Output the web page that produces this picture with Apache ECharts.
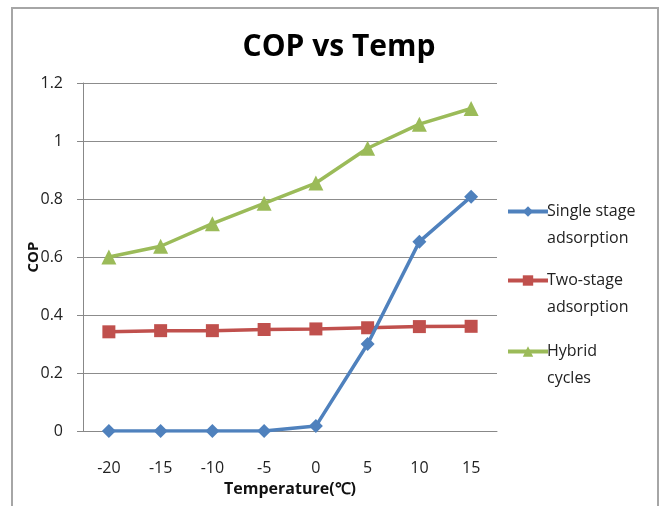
<!DOCTYPE html>
<html>
<head>
<meta charset="utf-8">
<script src="https://cdn.jsdelivr.net/npm/echarts@6/dist/echarts.min.js"></script>
<style>html,body{margin:0;padding:0;background:#fff}#c{width:662px;height:506px}</style>
</head>
<body>
<div id="c"></div>
<script>
const categories = ['-20', '-15', '-10', '-5', '0', '5', '10', '15'];
const singleStage = [0, 0, 0, 0, 0.017, 0.3, 0.653, 0.808];
const twoStage = [0.342, 0.346, 0.346, 0.35, 0.352, 0.356, 0.36, 0.361];
const hybrid = [0.6, 0.637, 0.715, 0.785, 0.855, 0.975, 1.058, 1.112];
const yTicks = [0, 0.2, 0.4, 0.6, 0.8, 1, 1.2];
const seriesNames = ['Single stage adsorption', 'Two-stage adsorption', 'Hybrid cycles'];
const legendLabels = {
  'Single stage adsorption': '\nSingle stage\nadsorption',
  'Two-stage adsorption': '\nTwo-stage\nadsorption',
  'Hybrid cycles': '\nHybrid\ncycles'
};

const FONT = '"Open Sans", sans-serif';
const legendTops = [193, 262, 333];
const chart = echarts.init(document.getElementById('c'), null, {renderer: 'canvas'});
chart.setOption({
  animation: false,
  backgroundColor: '#fff',
  title: {
    text: 'COP vs Temp',
    left: 334, top: 27, textAlign: 'center',
    textStyle: {fontFamily: FONT, fontWeight: 'bold', fontSize: 30, color: '#000'}
  },
  graphic: [{
    type: 'rect', shape: {x: 12, y: 8, width: 646, height: 520},
    style: {fill: 'none', stroke: '#a6a6a6', lineWidth: 2}, silent: true
  }],
  grid: {left: 83, right: 165, top: 83, bottom: 75, containLabel: false},
  legend: seriesNames.map((n, i) => ({
    orient: 'vertical', left: 501, top: legendTops[i] - 27,
    itemWidth: 40, itemHeight: 13, itemGap: 0,
    data: [n],
    formatter: nm => legendLabels[nm],
    lineStyle: {width: 4},
    textStyle: {fontFamily: FONT, fontSize: 16, color: '#222', lineHeight: 27, padding: [0, 0, 0, -6]}
  })),
  xAxis: {
    type: 'category', data: categories, boundaryGap: true,
    name: 'Temperature(℃)', nameLocation: 'middle', nameGap: 50,
    nameTextStyle: {fontFamily: FONT, fontWeight: 'bold', fontSize: 16, color: '#111'},
    axisLine: {lineStyle: {color: '#888', width: 1}},
    axisTick: {show: false},
    axisLabel: {fontFamily: FONT, fontSize: 16, color: '#222', margin: 29}
  },
  yAxis: {
    type: 'value', min: 0, max: 1.2, interval: 0.2,
    name: 'COP', nameLocation: 'middle', nameGap: 42, nameRotate: 90, nameMoveOverlap: false,
    nameTextStyle: {fontFamily: FONT, fontWeight: 'bold', fontSize: 15, color: '#111'},
    axisLine: {show: true, lineStyle: {color: '#888', width: 1}},
    axisTick: {show: true, inside: false, length: 6, lineStyle: {color: '#888'}},
    axisLabel: {fontFamily: FONT, fontSize: 16, color: '#222', margin: 20,
      formatter: v => { const t = yTicks.find(x => Math.abs(x - v) < 1e-9); return t === undefined ? '' : String(t); }},
    splitLine: {show: true, lineStyle: {color: '#8c8c8c', width: 1}}
  },
  series: [
    {name: seriesNames[0], type: 'line', data: singleStage, symbol: 'diamond', symbolSize: 14,
      lineStyle: {color: '#4f81bd', width: 3.5}, itemStyle: {color: '#4f81bd'}, z: 4},
    {name: seriesNames[1], type: 'line', data: twoStage, symbol: 'rect', symbolSize: 13,
      lineStyle: {color: '#c0504d', width: 3.5}, itemStyle: {color: '#c0504d'}, z: 3},
    {name: seriesNames[2], type: 'line', data: hybrid, symbol: 'triangle', symbolSize: 15,
      lineStyle: {color: '#9bbb59', width: 3.5}, itemStyle: {color: '#9bbb59'}, z: 3}
  ]
});
</script>
</body>
</html>
